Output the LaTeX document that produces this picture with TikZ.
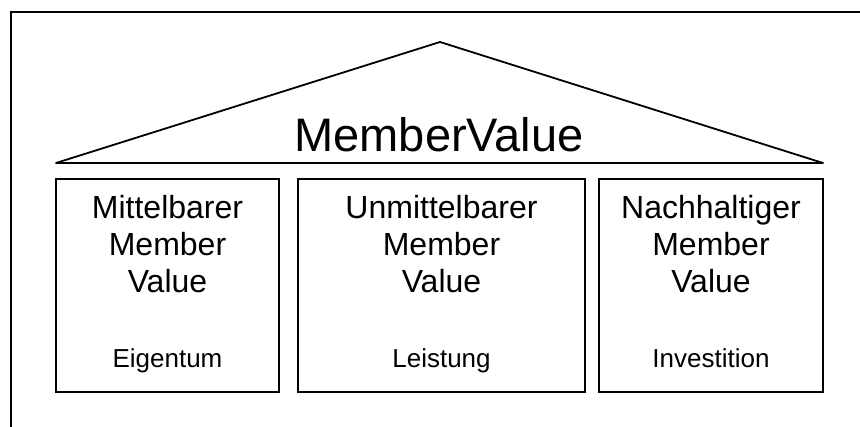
\documentclass[tikz,border=0pt]{standalone}
\usepackage{fontspec}
\setmainfont{Liberation Sans}
\usetikzlibrary{positioning}

\begin{document}
\begin{tikzpicture}[x=1pt, y=-1pt,
    pillar/.style={rectangle, draw, line width=2pt, outer sep=0pt, inner sep=0pt, minimum height=213pt},
    pillartitle/.style={align=center, inner sep=0pt, anchor=base, font=\fontsize{32}{37}\selectfont},
    pillarnote/.style={inner sep=0pt, anchor=base, font=\fontsize{26}{30}\selectfont},
    roof/.style={line width=1.8pt, line join=round}]

    \useasboundingbox (0,0) rectangle (860,427);
    \draw[line width=2.4pt] (11,427) -- (11,12) -- (860,12);

    % the three pillars
    \node[pillar, minimum width=223pt] (mittel) at (167.5,285.5) {};
    \node[pillar, minimum width=287pt, right=19pt of mittel] (unmittel) {};
    \node[pillar, minimum width=224pt, right=14pt of unmittel] (nachhaltig) {};

    % base is the last line
    \node[pillartitle] (mitteltitle) at ([yshift=-114pt]mittel.north) {Mittelbarer\\Member\\Value};
    \node[pillartitle] (unmitteltitle) at ([yshift=-114pt]unmittel.north) {Unmittelbarer\\Member\\Value};
    \node[pillartitle] (nachhaltigtitle) at ([yshift=-114pt]nachhaltig.north) {Nachhaltiger\\Member\\Value};

    \node[pillarnote] (eigentum) at ([yshift=24pt]mittel.south) {Eigentum};
    \node[pillarnote] (leistung) at ([yshift=24pt]unmittel.south) {Leistung};
    \node[pillarnote] (investition) at ([yshift=24pt]nachhaltig.south) {Investition};

    % the roof
    \coordinate (eaveleft) at ([yshift=16pt]mittel.north west);
    \coordinate (eaveright) at ([yshift=16pt]nachhaltig.north east);
    \coordinate (ridge) at (440,42);
    \draw[roof] (eaveleft) -- (ridge) -- (eaveright) -- cycle;
    \node[inner sep=0pt, anchor=base, font=\fontsize{47}{56}\selectfont] (membervalue) at (439,152) {MemberValue};

\end{tikzpicture}
\end{document}
